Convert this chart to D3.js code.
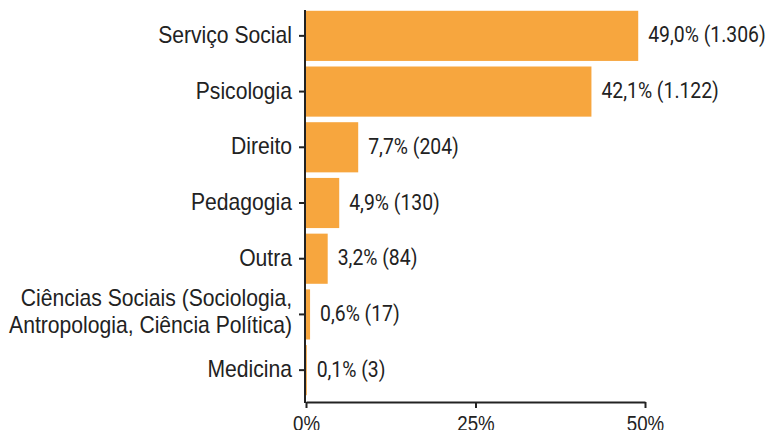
<!DOCTYPE html>
<html lang="pt">
<head>
  <meta charset="UTF-8" />
  <title>Área de formação</title>
  <style>
    body {
      margin: 0;
      background-color: white;
    }
    svg {
      display: block;
      font-family: 'Roboto', sans-serif;
    }
    .axis path, .axis line, .axis-line {
      stroke: #222;
      stroke-width: 2;
    }
    .axis text {
      fill: #222;
    }
  </style>
  <script src="https://d3js.org/d3.v7.min.js"></script>
</head>
<body>
  <div id="chart"></div>

  <script>
    const categories = [
      "Serviço Social",
      "Psicologia",
      "Direito",
      "Pedagogia",
      "Outra",
      "Ciências Sociais (Sociologia,|Antropologia, Ciência Política)",
      "Medicina"
    ];
    const percents = [49.0, 42.1, 7.7, 4.9, 3.2, 0.6, 0.1];
    const counts = ["1.306", "1.122", "204", "130", "84", "17", "3"];
    const xTicks = [0, 25, 50];

    const barColor = "#f7a63e";

    const width = 770;
    const height = 430;
    const axisY = 402;
    const axisTop = 10;

    const svg = d3.select("#chart")
      .append("svg")
      .attr("width", width)
      .attr("height", height);

    const x = d3.scaleLinear()
      .domain([0, 50])
      .range([306, 645]);

    const y = d3.scaleBand()
      .domain(categories)
      .range([8, 398])
      .paddingInner(0.1)
      .paddingOuter(0.05);

    // squeeze glyphs horizontally, the original face is a condensed one
    function condense(factor) {
      return sel => sel.each(function() {
        const len = this.getComputedTextLength();
        if (len > 0) {
          d3.select(this)
            .attr("textLength", len * factor)
            .attr("lengthAdjust", "spacingAndGlyphs");
        }
      });
    }

    // bars
    svg.append("g")
      .selectAll("rect")
      .data(categories)
      .enter().append("rect")
      .attr("x", x(0))
      .attr("y", d => y(d))
      .attr("width", (d, i) => Math.max(0.8, x(percents[i]) - x(0)))
      .attr("height", y.bandwidth())
      .attr("fill", barColor);

    // value labels
    svg.append("g")
      .selectAll("text")
      .data(categories)
      .enter().append("text")
      .attr("x", (d, i) => x(percents[i]) + 10)
      .attr("y", d => y(d) + y.bandwidth() / 2)
      .attr("dy", "0.3em")
      .attr("fill", "#222")
      .style("font-size", "22px")
      .text((d, i) => `${percents[i].toFixed(1).replace(".", ",")}% (${counts[i]})`)
      .call(condense(0.88));

    // y axis
    const yAxis = svg.append("g")
      .attr("class", "axis")
      .attr("transform", `translate(${x(0) - 1},0)`)
      .call(d3.axisLeft(y).tickSize(6).tickPadding(7).tickSizeOuter(0));
    yAxis.select(".domain").remove();

    yAxis.selectAll(".tick text").each(function(d) {
      const lines = d.split("|");
      const t = d3.select(this).text(null).attr("dy", null).style("font-size", "24px");
      const lh = 27;
      lines.forEach((line, i) => {
        t.append("tspan")
          .attr("x", -13)
          .attr("y", (i - (lines.length - 1) / 2) * lh - (lines.length > 1 ? 2 : 0))
          .attr("dy", "0.3em")
          .text(line);
      });
    });
    yAxis.selectAll(".tick tspan").call(condense(0.88));

    svg.append("line")
      .attr("class", "axis-line")
      .attr("x1", x(0) - 1)
      .attr("x2", x(0) - 1)
      .attr("y1", axisTop)
      .attr("y2", axisY + 1);

    // x axis
    const xAxis = svg.append("g")
      .attr("class", "axis")
      .attr("transform", `translate(0,${axisY})`)
      .call(d3.axisBottom(x)
        .tickValues(xTicks)
        .tickFormat(d => d + "%")
        .tickSize(6)
        .tickPadding(7)
        .tickSizeOuter(0));
    xAxis.selectAll(".tick text")
      .style("font-size", "22px")
      .call(condense(0.85));
  </script>
</body>
</html>
